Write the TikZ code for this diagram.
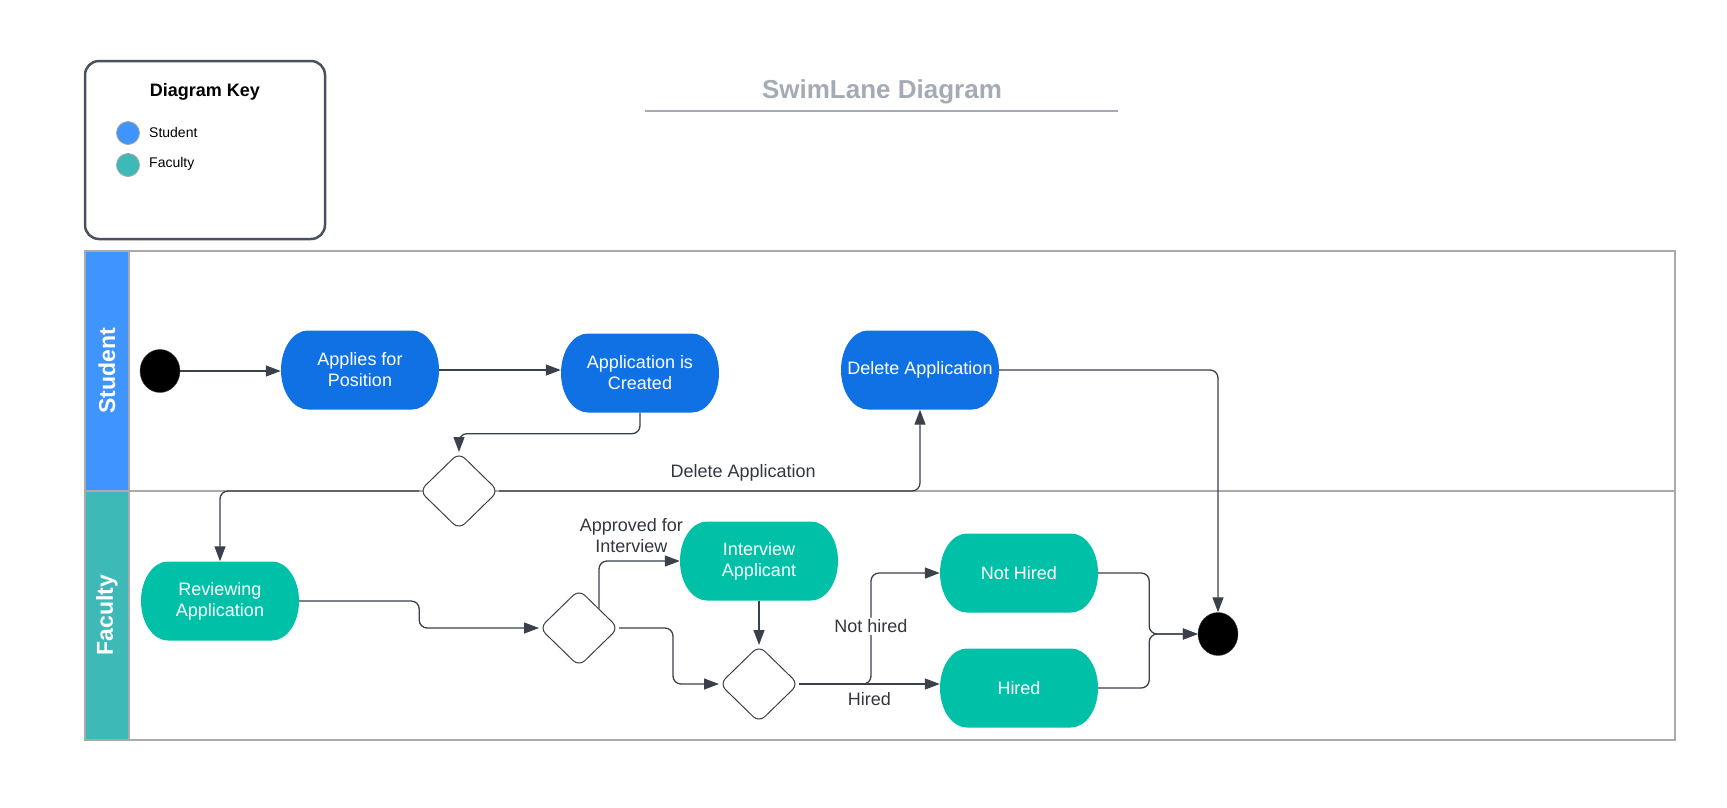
\documentclass[tikz,border=0pt]{standalone}
\usepackage{fontspec}
\setmainfont{Liberation Sans}
\usetikzlibrary{
  arrows.meta,
  shapes.geometric
}
\definecolor{stublue}{RGB}{16,113,229}
\definecolor{stulane}{RGB}{64,148,253}
\definecolor{faclane}{RGB}{61,185,184}
\definecolor{facteal}{RGB}{0,193,168}
\definecolor{linegray}{RGB}{58,65,74}
\definecolor{lanegray}{RGB}{170,170,170}
\definecolor{titlegray}{RGB}{165,171,181}
\definecolor{keyborder}{RGB}{74,81,92}
\definecolor{labelgray}{RGB}{50,55,62}
\newcommand\actfont{\fontsize{18}{21}\selectfont}
\newcommand\lanefont{\fontsize{23}{26}\selectfont\bfseries}
\tikzset{
  act/.style={
    minimum width=158pt, minimum height=79pt, inner sep=0pt,
    text=white, align=center, font=\actfont,
    path picture={
      \fill[#1] ([xshift=27pt]path picture bounding box.north west)
        -- ([xshift=-27pt]path picture bounding box.north east)
        arc[start angle=90, end angle=-90, x radius=27pt, y radius=39.5pt]
        -- ([xshift=27pt]path picture bounding box.south west)
        arc[start angle=270, end angle=90, x radius=27pt, y radius=39.5pt]
        -- cycle;
    }
  },
  decision/.style={
    diamond, draw=linegray, fill=white, line width=1pt, rounded corners=8pt,
    minimum width=79pt, minimum height=77pt, inner sep=0pt
  },
  dot/.style={ellipse, draw=linegray, fill=black, minimum width=40pt,
    minimum height=43pt, inner sep=0pt},
  flow/.style={
    draw=linegray, line width=1.3pt, rounded corners=8pt,
    -{Triangle[length=15pt,width=11pt]}
  },
  lbl/.style={text=labelgray, font=\actfont, align=center, inner sep=2pt},
  lane/.style={draw=lanegray, line width=2pt},
  lanehead/.style={text=white, font=\lanefont, rotate=90},
  keydot/.style={circle, draw=gray!70, line width=0.8pt, minimum size=23pt, inner sep=0pt},
  keytext/.style={anchor=west, inner sep=0pt, font=\fontsize{14}{16}\selectfont}
}
\begin{document}
\begin{tikzpicture}[x=1pt,y=-1pt]
\useasboundingbox (0,0) rectangle (1727,807);

% key and title
\node[draw=keyborder, line width=2.5pt, rounded corners=14pt,
  minimum width=240pt, minimum height=178pt] (key) at (205,150) {};
\node[font=\fontsize{18}{21}\selectfont\bfseries] (keytitle) at (205,92) {Diagram Key};
\node[keydot, fill=stulane] (kstu) at (128,133) {};
\node[keytext] (kstutext) at (149,132) {Student};
\node[keydot, fill=faclane] (kfac) at (128,165) {};
\node[keytext] (kfactext) at (149,164) {Faculty};
\node[text=titlegray, font=\fontsize{26}{30}\selectfont\bfseries] (title) at (882,92) {SwimLane Diagram};
\draw[titlegray, line width=2pt] (645,111) -- (1118,111);

% lanes
\draw[lane] (85,251) rectangle (1675,740);
\filldraw[lane, fill=stulane] (85,251) rectangle (129,491);
\filldraw[lane, fill=faclane] (85,491) rectangle (129,740);
\draw[lane] (129,491) -- (1675,491);
\node[lanehead] (stulabel) at (107,371) {Student};
\node[lanehead] (faclabel) at (107,615) {Faculty};

% activities
\node[dot] (start) at (160,371) {};
\node[act=stublue] (applies) at (360,370) {Applies for\\Position};
\node[act=stublue] (created) at (640,373) {Application is\\Created};
\node[act=stublue] (delete) at (920,370) {Delete Application};
\node[decision] (d1) at (459,491) {};
\node[act=facteal] (review) at (220,601) {Reviewing\\Application};
\node[decision] (d2) at (579,628) {};
\node[act=facteal] (interview) at (759,561) {Interview\\Applicant};
\node[decision] (d3) at (759,684) {};
\node[act=facteal] (nothired) at (1019,573) {Not Hired};
\node[act=facteal] (hired) at (1019,688) {Hired};
\node[dot] (finish) at (1218,634) {};

% connectors
\draw[flow] (start) -- (start -| applies.west);
\draw[flow] (applies) -- (applies -| created.west);
\draw[flow] (created.south) -- ++(0,21) -| (d1.north);
\draw[flow] (d1.east) -| (delete.south)
  node[lbl, above=7pt, pos=0.29] {Delete Application};
\draw[flow] (d1.west) -| (review.north);
\draw[flow] (review.east) -- ++(120,0) |- (d2.west);
\draw[flow] (d2.north east) |- (interview.west)
  node[lbl, above=6pt, pos=0.7] {Approved for\\Interview};
\draw[flow] (d2.east) -- ++(54,0) |- (d3.west);
\draw[flow] (interview.south) -- (d3.north);
\draw[flow] (d3.east) -- ++(72,0) |- (nothired.west)
  node[lbl, fill=white, pos=0.26] {Not hired};
\draw[flow] (d3.east) -- (d3.east -| hired.west)
  node[lbl, below=6pt, pos=0.5] {Hired};
\draw[flow] (nothired.east) -- ++(51,0) |- (finish.west);
\draw[flow] (hired.east) -- ++(51,0) |- (finish.west);
\draw[flow] (delete.east) -| (finish.north);
\end{tikzpicture}
\end{document}
